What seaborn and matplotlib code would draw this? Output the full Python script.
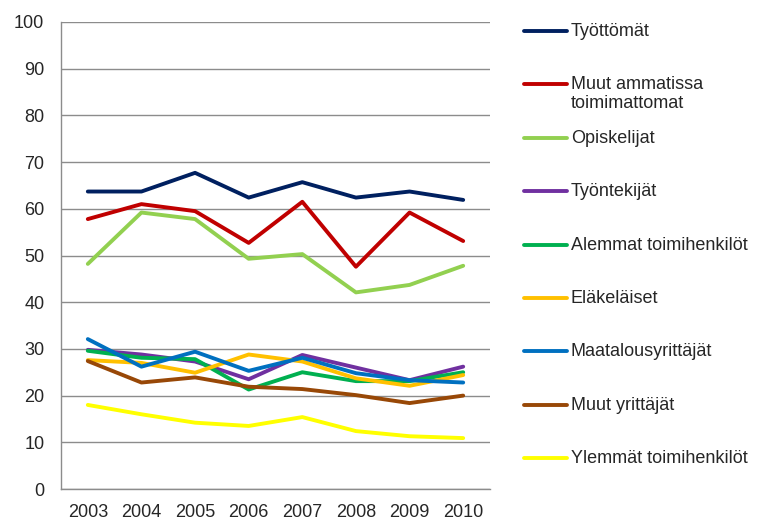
import numpy as np
import pandas as pd
import seaborn as sns
import matplotlib.pyplot as plt
from matplotlib.lines import Line2D

years = ["2003", "2004", "2005", "2006", "2007", "2008", "2009", "2010"]

tyottomat = [63.7, 63.7, 67.7, 62.4, 65.7, 62.4, 63.7, 61.9]
muut_ammatissa = [57.8, 61.0, 59.5, 52.7, 61.5, 47.6, 59.2, 53.1]
opiskelijat = [48.2, 59.2, 57.8, 49.3, 50.3, 42.1, 43.7, 47.8]
tyontekijat = [29.8, 28.8, 27.3, 23.5, 28.7, 26.0, 23.3, 26.2]
alemmat = [29.6, 28.1, 27.8, 21.3, 25.0, 23.1, 23.1, 25.0]
elakelaiset = [27.6, 27.0, 24.9, 28.8, 27.3, 23.7, 22.1, 24.4]
maatalous = [32.1, 26.2, 29.4, 25.3, 28.1, 24.8, 23.3, 22.8]
muut_yrittajat = [27.4, 22.8, 23.9, 21.9, 21.4, 20.1, 18.4, 20.0]
ylemmat = [18.0, 16.0, 14.2, 13.5, 15.4, 12.4, 11.3, 10.9]

labels = ["Työttömät", "Muut ammatissa\ntoimimattomat", "Opiskelijat",
          "Työntekijät", "Alemmat toimihenkilöt", "Eläkeläiset",
          "Maatalousyrittäjät", "Muut yrittäjät", "Ylemmät toimihenkilöt"]
series = [tyottomat, muut_ammatissa, opiskelijat, tyontekijat, alemmat,
          elakelaiset, maatalous, muut_yrittajat, ylemmat]
colors = ["#002060", "#C00000", "#92D050", "#7030A0", "#00B050",
          "#FFC000", "#0070C0", "#984807", "#FFFF00"]

rows = []
for lab, vals in zip(labels, series):
    for i, v in enumerate(vals):
        rows.append({"x": i, "value": v, "group": lab})
df = pd.DataFrame(rows)

sns.set_style("white")
plt.rcParams["font.family"] = ["Liberation Sans", "DejaVu Sans"]

fig = plt.figure(figsize=(7.68, 5.21), dpi=100)
ax = fig.add_axes([61 / 768, 32 / 521, 429 / 768, 467 / 521])

sns.lineplot(data=df, x="x", y="value", hue="group", hue_order=labels,
             palette=dict(zip(labels, colors)), linewidth=2.8, ax=ax,
             legend=False)

ax.set_xlim(-0.5, 7.5)
ax.set_ylim(0, 100)
ax.set_yticks(np.arange(0, 101, 10))
ax.yaxis.grid(True, color="#8c8c8c", linewidth=1)
ax.set_axisbelow(True)
ax.set_xticks(range(len(years)))
ax.set_xticklabels(years)
ax.set_xticks(np.arange(-0.5, 8, 1), minor=True)
ax.tick_params(axis="x", which="major", length=0, pad=11, labelsize=13)
ax.tick_params(axis="x", which="minor", length=5, color="#8c8c8c", direction="out")
ax.tick_params(axis="y", length=5, color="#8c8c8c", direction="out", pad=7,
               labelsize=13)
ax.set_xlabel("")
ax.set_ylabel("")
for s in ["top", "right"]:
    ax.spines[s].set_visible(False)
for s in ["left", "bottom"]:
    ax.spines[s].set_color("#8c8c8c")
    ax.spines[s].set_linewidth(1)

# legend, evenly spaced like the original
x0, x1, xt = 524 / 768, 567 / 768, 571 / 768
for i, (lab, col) in enumerate(zip(labels, colors)):
    ypx = 31 + i * 53.4
    y = 1 - ypx / 521
    fig.add_artist(Line2D([x0, x1], [y, y], color=col, linewidth=2.8,
                          transform=fig.transFigure))
    fig.text(xt, 1 - (ypx - 8) / 521, lab, va="top", ha="left",
             fontsize=13, linespacing=1.15)

fig.savefig("out.png", dpi=100)
